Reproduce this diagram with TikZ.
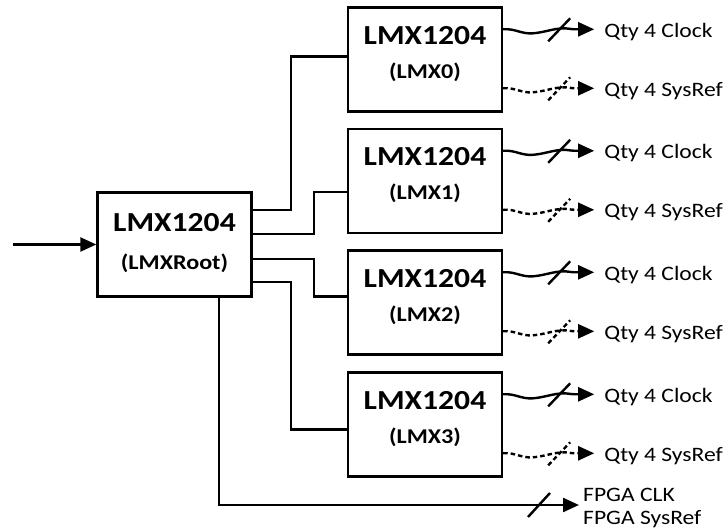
\documentclass[tikz,border=0pt]{standalone}
\usepackage{fontspec}
\setmainfont{Carlito}[FakeStretch=1.15]
\usetikzlibrary{arrows.meta,calc}

\tikzset{
  box/.style={draw,line width=2.4pt,minimum width=154pt,minimum height=104pt,inner sep=0pt},
  wire/.style={line width=2.4pt},
  tip/.style={-{Triangle[length=16pt,width=14pt]}},
  dashwire/.style={wire,dash pattern=on 4.5pt off 3pt},
  title/.style={font=\bfseries\fontsize{27.5}{27.5}\selectfont,anchor=base,inner sep=0pt},
  sub/.style={font=\bfseries\fontsize{21}{21}\selectfont,anchor=base,inner sep=0pt},
  lbl/.style={font=\fontsize{20.5}{20.5}\selectfont,anchor=base west,inner sep=0pt},
}

% wavy bus line with a slash, start point #2, style #1
\newcommand\busline[2]{%
  \draw[#1,tip] (#2) .. controls ($(#2)+(12,-1)$) and ($(#2)+(18,5)$) .. ($(#2)+(30,4)$)
    .. controls ($(#2)+(42,3)$) and ($(#2)+(50,-1)$) .. ($(#2)+(62,-1)$)
    .. controls ($(#2)+(70,0)$) .. ($(#2)+(76,0)$) -- ($(#2)+(91,0)$);
  \draw[#1] ($(#2)+(45,12)$) -- ($(#2)+(67,-11)$);
}

\begin{document}
\begin{tikzpicture}[x=1pt,y=-1pt]
  \useasboundingbox (0,0) rectangle (724,529);

  % root device
  \node[box] (root) at (174.5,244.5) {};
  \node[title] at ($(root.north)+(0,40)$) {LMX1204};
  \node[sub] at ($(root.north)+(0,78)$) {(LMXRoot)};
  \coordinate (in) at (13,244.5);
  \draw[wire,tip] (in) -- (root.west);

  % leaf devices
  \foreach \i/\y in {0/59.5,1/181,2/302.5,3/424.5}{
    \node[box] (lmx\i) at (425,\y) {};
    \node[title] at ($(lmx\i.north)+(0,38)$) {LMX1204};
    \node[sub] at ($(lmx\i.north)+(0,72)$) {(LMX\i)};
    \busline{wire}{$(lmx\i.north east)+(0,23)$}
    \busline{dashwire}{$(lmx\i.north east)+(0,82)$}
    \node[lbl] at ($(lmx\i.north east)+(101,31)$) {Qty 4 Clock};
    \node[lbl] at ($(lmx\i.north east)+(101,90)$) {Qty 4 SysRef};
  }

  % root to leaves
  \draw[wire] ($(root.north east)+(0,19)$) -- ++(38,0) |- ($(lmx0.west)+(0,-3)$);
  \draw[wire] ($(root.north east)+(0,43)$) -- ++(61,0) |- ($(lmx1.west)+(0,11)$);
  \draw[wire] ($(root.north east)+(0,68)$) -- ++(61,0) |- ($(lmx2.west)+(0,-6)$);
  \draw[wire] ($(root.north east)+(0,91)$) -- ++(38,0) |- ($(lmx3.west)+(0,5)$);

  % FPGA outputs
  \coordinate (fpga) at (579,505);
  \draw[wire,tip] ($(root.south)+(44.5,0)$) |- (fpga);
  \draw[wire] (528,517) -- (550,493);
  \node[lbl] at (583,502) {FPGA CLK};
  \node[lbl] at (583,525) {FPGA SysRef};
\end{tikzpicture}
\end{document}
